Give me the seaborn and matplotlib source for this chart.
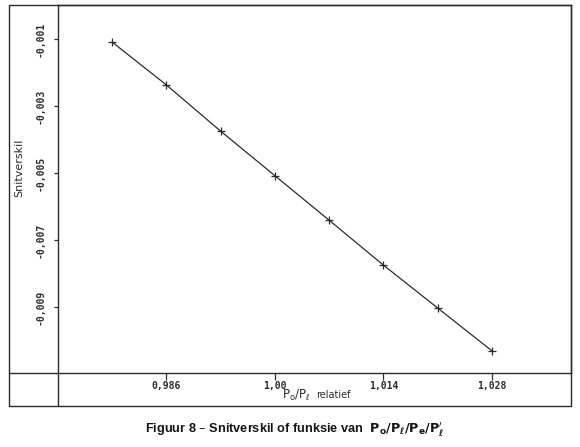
import matplotlib
matplotlib.use('Agg')
import matplotlib.pyplot as plt
import seaborn as sns
import pandas as pd
from matplotlib.lines import Line2D

# values
ratio = [0.979, 0.986, 0.993, 1.000, 1.007, 1.014, 1.021, 1.028]
snitverskil = [-0.00109, -0.00237, -0.00375, -0.00508,
               -0.00641, -0.00775, -0.00903, -0.01031]

x_ticks = [0.986, 1.000, 1.014, 1.028]
x_tick_labels = ['0,986', '1,00', '1,014', '1,028']
y_ticks = [-0.001, -0.003, -0.005, -0.007, -0.009]
y_tick_labels = ['-0,001', '-0,003', '-0,005', '-0,007', '-0,009']

df = pd.DataFrame({'ratio': ratio, 'snit': snitverskil})

sns.set_theme(style='white')
plt.rcParams['font.family'] = ['DejaVu Sans']

W, H = 580, 447
fig = plt.figure(figsize=(W / 100, H / 100), dpi=100)
ink = '#2b2b2b'

# plot area: left axis at x=58px, bottom axis at y=373px
ax = fig.add_axes([58 / W, (H - 373) / H, (571 - 58) / W, (373 - 5) / H])
sns.lineplot(
    data=df,
    x='ratio',
    y='snit',
    ax=ax,
    color=ink,
    linewidth=0.9,
    marker='+',
    markersize=6,
    markeredgewidth=0.9,
    markeredgecolor=ink
)
ax.set_xlim(0.972, 1.0382)
ax.set_ylim(-0.01097, 0.00002)

ax.set_xticks(x_ticks)
ax.set_xticklabels(x_tick_labels, family='DejaVu Sans Mono', fontsize=7,
                   weight='bold', color=ink)
ax.set_yticks(y_ticks)
ax.set_yticklabels(y_tick_labels, family='DejaVu Sans Mono', fontsize=7,
                   weight='bold', color=ink, rotation=90, va='center')
ax.tick_params(axis='x', direction='out', length=5, width=0.9,
               color=ink, pad=0.5, bottom=True)
ax.tick_params(axis='y', direction='out', length=3, width=0.9,
               color=ink, pad=6, left=True)

for side in ['left', 'right', 'top', 'bottom']:
    ax.spines[side].set_color(ink)
    ax.spines[side].set_linewidth(1.0)

ax.set_xlabel('')
ax.set_ylabel('')
fig.text(282 / W, 1 - 395 / H, r'$\mathrm{P_o/P_\ell}$', ha='left',
         va='center', fontsize=8.5, color=ink)
fig.text(316 / W, 1 - 395 / H, 'relatief', ha='left', va='center',
         fontsize=7, color=ink)
fig.text(19 / W, 1 - 168 / H, 'Snitverskil', rotation=90, ha='center',
         va='center', fontsize=8, color=ink)

# outer frame of the figure box
def px_line(x0, y0, x1, y1):
    fig.add_artist(Line2D([x0 / W, x1 / W], [1 - y0 / H, 1 - y1 / H],
                          color=ink, linewidth=1.0))

px_line(9, 5, 571, 5)
px_line(9, 5, 9, 406)
px_line(9, 406, 571, 406)
px_line(571, 5, 571, 406)
px_line(9, 373, 58, 373)
px_line(58, 373, 58, 406)

fig.text(145 / W, 1 - 430 / H,
         r"Figuur 8 – Snitverskil of funksie van  $\mathbf{P_o/P_\ell/P_e/P_\ell^{\prime}}$",
         ha='left', va='center', fontsize=9.2, weight='bold',
         family='Liberation Sans', color='#141414')

plt.savefig('out.png', dpi=100)
plt.close()
